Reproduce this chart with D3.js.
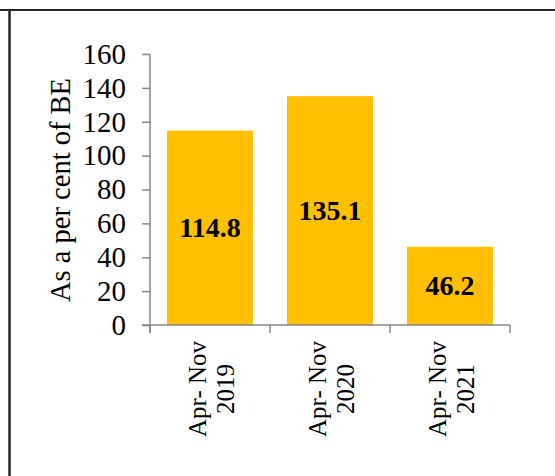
<!DOCTYPE html>
<html><head><meta charset="utf-8">
<script src="https://cdn.jsdelivr.net/npm/d3@7"></script>
<style>
html,body{margin:0;padding:0;background:#fff;}
svg{display:block;}
</style></head>
<body>
<svg id="chart" width="555" height="476"></svg>
<script>
const categories = ["Apr- Nov|2019", "Apr- Nov|2020", "Apr- Nov|2021"];
const values = [114.8, 135.1, 46.2];
const yTicks = [0, 20, 40, 60, 80, 100, 120, 140, 160];
const yTitle = "As a per cent of BE";

const svg = d3.select("#chart");
const font = "'Liberation Serif','Times New Roman',serif";

// frame lines
svg.append("line").attr("x1",0).attr("x2",555).attr("y1",10).attr("y2",10)
  .attr("stroke","#262626").attr("stroke-width",2);
svg.append("line").attr("x1",9.5).attr("x2",9.5).attr("y1",9).attr("y2",476)
  .attr("stroke","#262626").attr("stroke-width",2.5);

const y = d3.scaleLinear().domain([0,160]).range([325,54]);
const x = d3.scaleBand().domain(categories).range([150,510])
  .paddingInner(0.283).paddingOuter(0.1415);

// bars
svg.append("g").selectAll("rect").data(values).join("rect")
  .attr("x",(d,i)=>x(categories[i]))
  .attr("width",x.bandwidth())
  .attr("y",d=>y(d))
  .attr("height",d=>y(0)-y(d))
  .attr("fill","#FFC000");

// y axis
const yAxis = svg.append("g").attr("transform","translate(150,0)")
  .call(d3.axisLeft(y).tickValues(yTicks).tickSize(8).tickPadding(16).tickFormat(d3.format("d")));
yAxis.select(".domain").attr("stroke","#868686").attr("stroke-width",1.5).attr("d","M0,54V333");
yAxis.selectAll(".tick line").attr("stroke","#868686").attr("stroke-width",1.5);
yAxis.selectAll(".tick text").attr("font-family",font).attr("font-size",29).attr("fill","#000");

// x axis
const step = x.step();
const bounds = [0,1,2,3].map(i => 150 + i*step);
const xg = svg.append("g");
xg.append("line").attr("x1",142).attr("x2",510).attr("y1",y(0)).attr("y2",y(0))
  .attr("stroke","#868686").attr("stroke-width",1.5);
xg.selectAll("line.t").data(bounds).join("line").attr("class","t")
  .attr("x1",d=>d).attr("x2",d=>d).attr("y1",y(0)).attr("y2",y(0)+8)
  .attr("stroke","#868686").attr("stroke-width",1.5);

const lbl = xg.selectAll("g.lbl").data(categories).join("g").attr("class","lbl")
  .attr("transform",d=>`translate(${x(d)+x.bandwidth()/2},389) rotate(-90)`);
lbl.each(function(d){
  const parts = d.split("|");
  const t = d3.select(this).append("text").attr("text-anchor","middle")
    .attr("font-family",font).attr("font-size",25).attr("fill","#000");
  t.append("tspan").attr("x",0).attr("y",-13).attr("dominant-baseline","central").text(parts[0]);
  t.append("tspan").attr("x",0).attr("y",15).attr("dominant-baseline","central").text(parts[1]);
});

// data labels
svg.append("g").selectAll("text").data(values).join("text")
  .attr("x",(d,i)=>x(categories[i])+x.bandwidth()/2)
  .attr("y",d=>(y(d)+y(0))/2)
  .attr("text-anchor","middle").attr("dominant-baseline","central")
  .attr("font-family",font).attr("font-size",28).attr("font-weight","bold").attr("fill","#000")
  .text(d=>d.toFixed(1));

// y title
svg.append("text").attr("transform","translate(60,190) rotate(-90)")
  .attr("text-anchor","middle").attr("dominant-baseline","central")
  .attr("font-family",font).attr("font-size",28.5).attr("fill","#000").text(yTitle);
</script>
</body></html>
